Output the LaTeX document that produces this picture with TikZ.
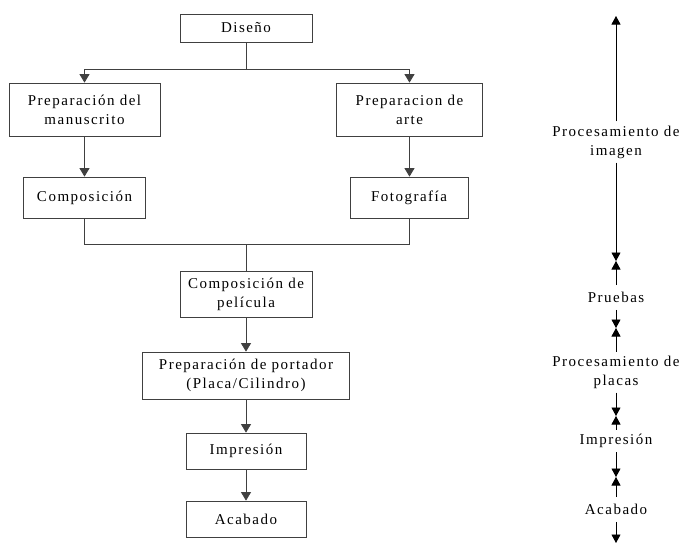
\documentclass[tikz,border=0pt]{standalone}
\usepackage{fontspec}
\setmainfont{Liberation Serif}[LetterSpace=10]
\usetikzlibrary{arrows.meta}
\begin{document}
\begin{tikzpicture}[x=1pt,y=-1pt,
  box/.style={draw=black!75, line width=0.8pt, align=center, inner sep=0pt,
    font=\fontsize{15}{19}\selectfont, text=black},
  lbl/.style={align=center, inner xsep=2pt, inner ysep=5pt,
    font=\fontsize{15}{19}\selectfont, text=black},
  ln/.style={draw=black!75, line width=0.8pt},
  arr/.style={ln, -{Triangle[width=10pt,length=8.5pt]}},
  rarr/.style={draw=black, line width=0.8pt, -{Triangle[width=9pt,length=8.5pt]}}]
\useasboundingbox (0,0) rectangle (681,544);
% left flow chart
\node[box, minimum width=132pt, minimum height=28pt] (dis) at (246,28) {Diseño};
\node[box, minimum width=151pt, minimum height=53pt] (pm) at (84.5,109.5) {Preparación del\\manuscrito};
\node[box, minimum width=146pt, minimum height=53pt] (pa) at (409.5,109.5) {Preparacion de\\arte};
\node[box, minimum width=122pt, minimum height=41pt] (comp) at (84.5,197.5) {Composición};
\node[box, minimum width=118pt, minimum height=41pt] (foto) at (409,197.5) {Fotografía};
\node[box, minimum width=132pt, minimum height=46pt] (cp) at (246,294) {Composición de\\película};
\node[box, minimum width=207pt, minimum height=47pt] (pp) at (246,375.5) {Preparación de portador\\(Placa/Cilindro)};
\node[box, minimum width=120pt, minimum height=36pt] (imp) at (246,451) {Impresión};
\node[box, minimum width=120pt, minimum height=36pt] (aca) at (246,519) {Acabado};
\coordinate (j1) at (246,69);
\coordinate (j2) at (246,244);
\draw[ln] (dis.south) -- (j1);
\draw[arr] (j1) -| (pm.north);
\draw[arr] (j1) -| (pa.north);
\draw[arr] (pm.south) -- (pm.south |- comp.north);
\draw[arr] (pa.south) -- (pa.south |- foto.north);
\draw[ln] (comp.south) |- (j2);
\draw[ln] (pa.south |- foto.south) |- (j2);
\draw[ln] (j2) -- (cp.north);
\draw[arr] (cp.south) -- (pp.north);
\draw[arr] (pp.south) -- (imp.north);
\draw[arr] (imp.south) -- (aca.north);
% right column
\coordinate (r0) at (616,16);
\coordinate (r1) at (616,261);
\coordinate (r2) at (616,328);
\coordinate (r3) at (616,416);
\coordinate (r4) at (616,477);
\coordinate (r5) at (616,543);
\node[lbl, inner ysep=4pt] (l1) at (616,142) {Procesamiento de\\imagen};
\node[lbl, inner ysep=7pt] (l2) at (616,297.5) {Pruebas};
\node[lbl, inner ysep=4pt] (l3) at (616,372) {Procesamiento de\\placas};
\node[lbl, inner ysep=4pt] (l4) at (616,441) {Impresión};
\node[lbl, inner ysep=7pt] (l5) at (616,509.5) {Acabado};
\draw[rarr] (l1.north) -- (r0);
\draw[rarr] (l1.south) -- (r1);
\draw[rarr] (l2.north) -- (r1);
\draw[rarr] (l2.south) -- (r2);
\draw[rarr] (l3.north) -- (r2);
\draw[rarr] (l3.south) -- (r3);
\draw[rarr] (l4.north) -- (r3);
\draw[rarr] (l4.south) -- (r4);
\draw[rarr] (l5.north) -- (r4);
\draw[rarr] (l5.south) -- (r5);
\end{tikzpicture}
\end{document}
